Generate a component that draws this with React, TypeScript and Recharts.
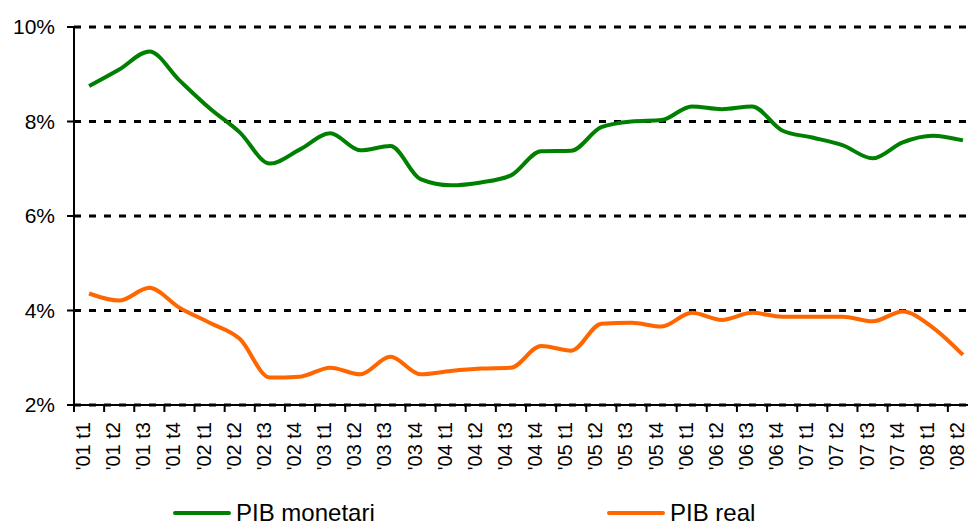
import { CartesianGrid, Legend, Line, LineChart, XAxis, YAxis } from "recharts";

const quarters = [
  "'01 t1", "'01 t2", "'01 t3", "'01 t4",
  "'02 t1", "'02 t2", "'02 t3", "'02 t4",
  "'03 t1", "'03 t2", "'03 t3", "'03 t4",
  "'04 t1", "'04 t2", "'04 t3", "'04 t4",
  "'05 t1", "'05 t2", "'05 t3", "'05 t4",
  "'06 t1", "'06 t2", "'06 t3", "'06 t4",
  "'07 t1", "'07 t2", "'07 t3", "'07 t4",
  "'08 t1", "'08 t2",
];

const pibMonetari = [
  8.75, 9.1, 9.48, 8.87, 8.28, 7.77, 7.11, 7.41, 7.75, 7.39,
  7.48, 6.78, 6.65, 6.71, 6.86, 7.37, 7.38, 7.88, 8.0, 8.03,
  8.32, 8.26, 8.32, 7.81, 7.66, 7.5, 7.22, 7.56, 7.7, 7.6,
];

const pibReal = [
  4.36, 4.21, 4.48, 4.06, 3.74, 3.4, 2.58, 2.6, 2.79, 2.65,
  3.02, 2.65, 2.72, 2.77, 2.79, 3.25, 3.15, 3.72, 3.74, 3.66,
  3.95, 3.8, 3.95, 3.87, 3.87, 3.87, 3.77, 3.98, 3.64, 3.06,
];

const yTicks = [2, 4, 6, 8, 10];

const data = quarters.map((q, i) => ({
  q,
  monetari: pibMonetari[i],
  real: pibReal[i],
}));

const FONT = "'Liberation Sans', Arial, sans-serif";
const PLOT_W = 904;
const TICK_SIZE = 7;
const TICK_MARGIN = 10;

function QuarterTick(props: any) {
  const { x, y, payload } = props;
  const half = payload?.offset > 0 ? payload.offset : PLOT_W / quarters.length / 2;
  const axisY = y - TICK_SIZE - TICK_MARGIN;
  return (
    <g>
      <line
        x1={x - half}
        x2={x - half}
        y1={axisY}
        y2={axisY + TICK_SIZE}
        stroke="#000"
        strokeWidth={2}
      />
      <text
        x={x}
        y={y}
        dy={1}
        textAnchor="end"
        transform={`rotate(-90, ${x}, ${y})`}
        fontSize={20}
        fontFamily={FONT}
        fill="#000"
      >
        {payload.value}
      </text>
    </g>
  );
}

function renderLegend(props: any) {
  const items = props.payload ?? [];
  return (
    <div
      style={{
        display: "flex",
        paddingLeft: 173,
        height: 24,
        fontSize: 24,
        fontFamily: FONT,
        color: "#000",
      }}
    >
      {items.map((it: any, i: number) => (
        <div
          key={it.value}
          style={{ display: "flex", alignItems: "center", width: i === 0 ? 434 : "auto" }}
        >
          <svg width={58} height={4}>
            <line x1={2} x2={56} y1={2} y2={2} stroke={it.color} strokeWidth={4} strokeLinecap="round" />
          </svg>
          <span style={{ marginLeft: 5, lineHeight: "24px" }}>{it.value}</span>
        </div>
      ))}
    </div>
  );
}

export default function App() {
  return (
    <div
      style={{
        position: "fixed",
        top: 0,
        left: 0,
        width: 968,
        height: 526,
        overflow: "hidden",
        background: "#fff",
      }}
    >
      <LineChart
        width={985}
        height={525}
        data={data}
        margin={{ top: 27, right: 7, bottom: 0, left: 0 }}
      >
        <CartesianGrid
          vertical={false}
          stroke="#000"
          strokeWidth={3}
          strokeDasharray="7 8"
        />
        <XAxis
          dataKey="q"
          scale="band"
          interval={0}
          height={96}
          tickSize={TICK_SIZE}
          tickMargin={TICK_MARGIN}
          tickLine={false}
          axisLine={{ stroke: "#000", strokeWidth: 2 }}
          tick={<QuarterTick />}
        />
        <YAxis
          width={74}
          domain={[2, 10]}
          ticks={yTicks}
          tickFormatter={(v: number) => `${v}%`}
          tickSize={7}
          tickMargin={12}
          axisLine={{ stroke: "#000", strokeWidth: 2 }}
          tickLine={{ stroke: "#000", strokeWidth: 2 }}
          tick={{ fill: "#000", fontSize: 21, fontFamily: FONT }}
        />
        <Legend verticalAlign="bottom" content={renderLegend} />
        <Line
          type="monotone"
          dataKey="monetari"
          name="PIB monetari"
          stroke="#008000"
          strokeWidth={4}
          dot={false}
          isAnimationActive={false}
        />
        <Line
          type="monotone"
          dataKey="real"
          name="PIB real"
          stroke="#FF6600"
          strokeWidth={4}
          dot={false}
          isAnimationActive={false}
        />
      </LineChart>
    </div>
  );
}
